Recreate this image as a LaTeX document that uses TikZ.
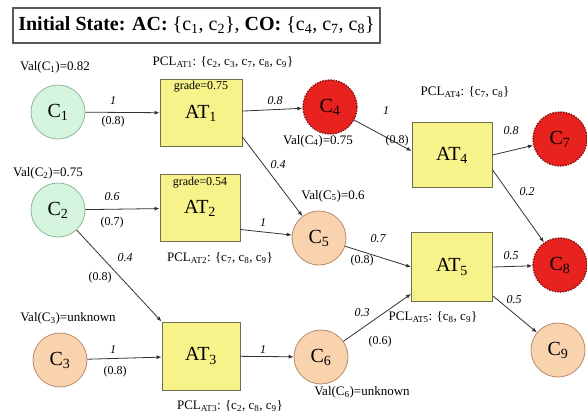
\documentclass[tikz,border=0pt]{standalone}
\usepackage{fontspec}
\setmainfont{LiberationSerif}[Extension=.ttf,UprightFont=*-Regular,BoldFont=*-Bold,ItalicFont=*-Italic,BoldItalicFont=*-BoldItalic]
\usetikzlibrary{arrows.meta}
\definecolor{cgreen}{HTML}{D6F5DE}
\definecolor{cgreenb}{HTML}{8FB89A}
\definecolor{corange}{HTML}{F9D2AE}
\definecolor{corangeb}{HTML}{B88C6C}
\definecolor{cred}{HTML}{E8221E}
\definecolor{credb}{HTML}{8A1010}
\definecolor{cyellow}{HTML}{F7F38A}
\definecolor{cyellowb}{HTML}{6E6E50}
\definecolor{cline}{HTML}{333333}
\newcommand{\sbs}[1]{\textsubscript{#1}}
\begin{document}
\begin{tikzpicture}[x=1pt,y=-1pt,
 cnode/.style={circle,minimum size=54pt,inner sep=0pt,font=\fontsize{20}{20}\selectfont,line width=0.8pt},
 gnode/.style={cnode,fill=cgreen,draw=cgreenb},
 onode/.style={cnode,fill=corange,draw=corangeb},
 rnode/.style={cnode,fill=cred,draw=credb,dash pattern=on 1.5pt off 1.2pt,line width=1.4pt},
 atbox/.style={rectangle,fill=cyellow,draw=cyellowb,line width=0.9pt,minimum width=80pt,minimum height=67pt,inner sep=0pt,font=\fontsize{20}{20}\selectfont},
 edge/.style={draw=cline,line width=0.8pt,-{Latex[length=5pt,width=4pt]}},
 wt/.style={inner sep=0pt,font=\fontsize{12}{12}\selectfont\itshape},
 pr/.style={inner sep=0pt,font=\fontsize{12}{12}\selectfont},
 txt/.style={inner sep=0pt,font=\fontsize{13}{13}\selectfont},
 grd/.style={inner sep=0pt,font=\fontsize{12}{12}\selectfont}
]
\useasboundingbox (0,0) rectangle (587,418);
\fill[white] (0,0) rectangle (587,418);

% title
\node[draw=black!65,line width=1.5pt,minimum width=367pt,minimum height=35pt,inner sep=0pt,
  font=\fontsize{20}{20}\selectfont] (title) at (196.5,25.5)
  {\textbf{Initial State: AC:} \{c\sbs{1}, c\sbs{2}\}, \textbf{CO:} \{c\sbs{4}, c\sbs{7}, c\sbs{8}\}};

% nodes
\node[gnode] (C1) at (58,112) {C\sbs{1}};
\node[gnode] (C2) at (58,210) {C\sbs{2}};
\node[onode] (C3) at (60,360) {C\sbs{3}};
\node[atbox,minimum width=82pt] (AT1) at (201,113) {AT\sbs{1}};
\node[atbox] (AT2) at (200,208) {AT\sbs{2}};
\node[atbox,minimum width=78pt,minimum height=68pt] (AT3) at (201,356) {AT\sbs{3}};
\node[rnode] (C4) at (330,107) {C\sbs{4}};
\node[onode] (C5) at (319,238) {C\sbs{5}};
\node[onode] (C6) at (321,357) {C\sbs{6}};
\node[atbox,minimum height=65pt] (AT4) at (452,155) {AT\sbs{4}};
\node[atbox,minimum width=81pt,minimum height=69pt] (AT5) at (452,267) {AT\sbs{5}};
\node[rnode] (C7) at (560,139) {C\sbs{7}};
\node[rnode] (C8) at (560,265) {C\sbs{8}};
\node[onode] (C9) at (558,350) {C\sbs{9}};

% grades
\node[grd] (g1) at (201,87) {grade=0.75};
\node[grd] (g2) at (200,183) {grade=0.54};

% connectors
\draw[edge] (C1) -- (AT1);
\draw[edge] (C2) -- (AT2);
\draw[edge] (C2) -- (AT3.north west);
\draw[edge] (C3) -- (AT3);
\draw[edge] (AT1) -- (C4);
\draw[edge] (AT1.-30) -- (C5);
\draw[edge] (AT2.-28) -- (C5);
\draw[edge] (AT3) -- (C6);
\draw[edge] (C4) -- ([yshift=4pt]AT4.west);
\draw[edge] (AT4.east) -- (C7);
\draw[edge] (AT4.-20) -- (C8);
\draw[edge] (C5) -- (AT5.west);
\draw[edge] (C6) -- ([yshift=8pt]AT5.south west);
\draw[edge] (AT5.east) -- (C8);
\draw[edge] ([yshift=6pt]AT5.south east) -- (C9);

% edge labels
\node[wt] (w1) at (113,101) {1};
\node[pr] (p1) at (113,122) {(0.8)};
\node[wt] (w2) at (112,197) {0.6};
\node[pr] (p2) at (112,223) {(0.7)};
\node[wt] (w3) at (125,258) {0.4};
\node[pr] (p3) at (100,278) {(0.8)};
\node[wt] (w4) at (113,350) {1};
\node[pr] (p4) at (115,372) {(0.8)};
\node[wt] (w5) at (275,101) {0.8};
\node[wt] (w6) at (278,165) {0.4};
\node[wt] (w7) at (263,223) {1};
\node[wt] (w8) at (263,350) {1};
\node[wt] (w9) at (386,111) {1};
\node[pr] (p9) at (397,141) {(0.8)};
\node[wt] (w10) at (511,131) {0.8};
\node[wt] (w11) at (527,192) {0.2};
\node[wt] (w12) at (378,239) {0.7};
\node[pr] (p12) at (362,261) {(0.8)};
\node[wt] (w13) at (362,313) {0.3};
\node[pr] (p13) at (380,342) {(0.6)};
\node[wt] (w14) at (511,256) {0.5};
\node[wt] (w15) at (514,300) {0.5};

% texts
\node[txt] (v1) at (55,67) {Val(C\sbs{1})=0.82};
\node[txt] (v2) at (48,173) {Val(C\sbs{2})=0.75};
\node[txt] (v3) at (68,318) {Val(C\sbs{3})=unknown};
\node[txt] (v4) at (318,141) {Val(C\sbs{4})=0.75};
\node[txt] (v5) at (333,196) {Val(C\sbs{5})=0.6};
\node[txt] (v6) at (362,392) {Val(C\sbs{6})=unknown};
\node[txt] (q1) at (223,62) {PCL\sbs{AT1}: \{c\sbs{2}, c\sbs{3}, c\sbs{7}, c\sbs{8}, c\sbs{9}\}};
\node[txt] (q2) at (220,258) {PCL\sbs{AT2}: \{c\sbs{7}, c\sbs{8}, c\sbs{9}\}};
\node[txt] (q3) at (230,406) {PCL\sbs{AT3}: \{c\sbs{2}, c\sbs{8}, c\sbs{9}\}};
\node[txt] (q4) at (465,92) {PCL\sbs{AT4}: \{c\sbs{7}, c\sbs{8}\}};
\node[txt] (q5) at (433,317) {PCL\sbs{AT5}: \{c\sbs{8}, c\sbs{9}\}};
\end{tikzpicture}
\end{document}
